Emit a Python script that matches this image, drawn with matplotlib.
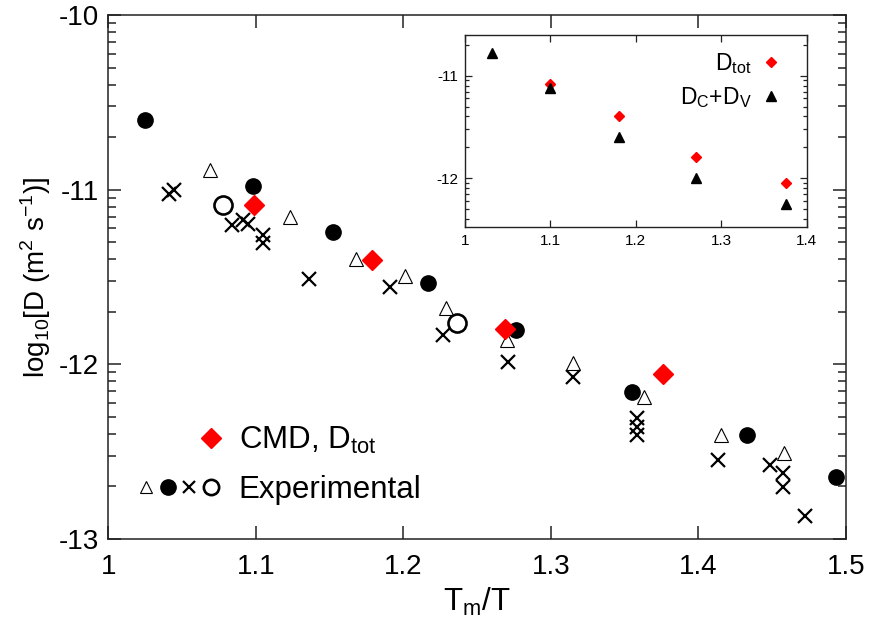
import numpy as np
import matplotlib
matplotlib.use("Agg")
import matplotlib.pyplot as plt
from matplotlib.lines import Line2D
from matplotlib.legend_handler import HandlerTuple
from matplotlib.ticker import FixedLocator, NullLocator

plt.rcParams['font.family'] = ['Liberation Sans', 'DejaVu Sans']
plt.rcParams['mathtext.fontset'] = 'custom'
plt.rcParams['mathtext.rm'] = 'Liberation Sans'
plt.rcParams['axes.unicode_minus'] = False

# ---- data: main panel ----
tri_x = [1.069, 1.123, 1.168, 1.201, 1.229, 1.270, 1.315, 1.363, 1.415, 1.458]
tri_y = [-10.887, -11.158, -11.398, -11.494, -11.679, -11.860, -11.994, -12.188, -12.404, -12.509]

fcirc_x = [1.025, 1.098, 1.152, 1.2165, 1.276, 1.355, 1.433, 1.493]
fcirc_y = [-10.601, -10.979, -11.240, -11.536, -11.803, -12.156, -12.404, -12.646]

cross_x = [1.041, 1.0445, 1.084, 1.0915, 1.095, 1.105, 1.105, 1.136, 1.191, 1.227,
           1.271, 1.315, 1.358, 1.358, 1.358, 1.413, 1.4485, 1.457, 1.457, 1.472]
cross_y = [-11.025, -11.002, -11.204, -11.173, -11.196, -11.259, -11.303, -11.513, -11.559, -11.832,
           -11.985, -12.074, -12.309, -12.357, -12.404, -12.547, -12.576, -12.620, -12.704, -12.868]

ocirc_x = [1.078, 1.236]
ocirc_y = [-11.089, -11.761]

cmd_x = [1.099, 1.1785, 1.269, 1.376]
cmd_y = [-11.089, -11.402, -11.799, -12.057]

# ---- data: inset ----
in_tri_x = [1.032, 1.100, 1.180, 1.270, 1.376]
in_tri_y = [-10.778, -11.120, -11.600, -12.000, -12.254]
in_dia_x = [1.100, 1.180, 1.270, 1.376]
in_dia_y = [-11.078, -11.398, -11.795, -12.043]

main_xticks = [1.0, 1.1, 1.2, 1.3, 1.4, 1.5]
main_xticklabels = ['1', '1.1', '1.2', '1.3', '1.4', '1.5']
main_yticks = [-13, -12, -11, -10]
inset_xticks = [1.0, 1.1, 1.2, 1.3, 1.4]
inset_xticklabels = ['1', '1.1', '1.2', '1.3', '1.4']
inset_yticks = [-12, -11]

RED = '#ff0000'


def log_minor(lo, hi):
    vals = []
    for n in range(int(np.floor(lo)) - 1, int(np.ceil(hi)) + 1):
        for k in range(2, 10):
            v = n + np.log10(k)
            if lo < v < hi:
                vals.append(v)
    return vals


fig = plt.figure(figsize=(8.75, 6.28), dpi=100)
ax = fig.add_axes([0.1238, 0.1417, 0.9669 - 0.1238, 0.9761 - 0.1417])

ax.plot(tri_x, tri_y, linestyle='none', marker='^', markersize=9.5,
        markerfacecolor='white', markeredgecolor='black', markeredgewidth=0.8)
ax.plot(fcirc_x, fcirc_y, linestyle='none', marker='o', markersize=11,
        markerfacecolor='black', markeredgecolor='black')
ax.plot(cross_x, cross_y, linestyle='none', marker='x', markersize=9.5,
        color='black', markeredgewidth=1.6)
ax.plot(ocirc_x, ocirc_y, linestyle='none', marker='o', markersize=13,
        markerfacecolor='none', markeredgecolor='black', markeredgewidth=1.9)
ax.plot(cmd_x, cmd_y, linestyle='none', marker='D', markersize=10,
        markerfacecolor=RED, markeredgecolor=RED, zorder=5)

ax.set_xlim(1.0, 1.5)
ax.set_ylim(-13, -10)
ax.set_xticks(main_xticks)
ax.set_xticklabels(main_xticklabels)
ax.set_yticks(main_yticks)
ax.yaxis.set_minor_locator(FixedLocator(log_minor(-13, -10)))
ax.xaxis.set_minor_locator(NullLocator())
ax.tick_params(which='both', direction='in', top=True, right=True, width=1.1, colors='#222222',
               labelcolor='black')
ax.tick_params(which='major', length=9.5, labelsize=20, pad=7)
ax.tick_params(axis='x', which='major', pad=11)
ax.tick_params(which='minor', length=5.5)
for s in ax.spines.values():
    s.set_linewidth(1.1)
    s.set_color('#222222')

ax.set_xlabel(r'T$_\mathregular{m}$/T', fontsize=22.5, labelpad=4)
ax.set_ylabel(r'log$_\mathregular{10}$[D (m$^\mathregular{2}$ s$^\mathregular{-1}$)]', fontsize=20, labelpad=4)

# legend (main)
blank = Line2D([], [], linestyle='none', marker='none')
h_cmd = Line2D([], [], linestyle='none', marker='D', markersize=10,
               markerfacecolor=RED, markeredgecolor=RED)
h_tri = Line2D([], [], linestyle='none', marker='^', markersize=9,
               markerfacecolor='white', markeredgecolor='black', markeredgewidth=0.8)
h_fc = Line2D([], [], linestyle='none', marker='o', markersize=11,
              markerfacecolor='black', markeredgecolor='black')
h_x = Line2D([], [], linestyle='none', marker='x', markersize=8,
             color='black', markeredgewidth=1.6)
h_oc = Line2D([], [], linestyle='none', marker='o', markersize=11,
              markerfacecolor='none', markeredgecolor='black', markeredgewidth=1.9)
leg = ax.legend([(blank, blank, blank, h_cmd), (h_tri, h_fc, h_x, h_oc)],
                [r'CMD, D$_\mathregular{tot}$', 'Experimental'],
                handler_map={tuple: HandlerTuple(ndivide=None, pad=0)},
                loc='lower left', bbox_to_anchor=(0.037, 0.065), borderaxespad=0,
                borderpad=0, frameon=False, fontsize=22.5, handlelength=2.75,
                handletextpad=0.55, labelspacing=0.62)

# inset
axin = fig.add_axes([465 / 875, 1 - 227.3 / 628, (806.7 - 465) / 875, (227.3 - 34.7) / 628])
axin.plot(in_dia_x, in_dia_y, linestyle='none', marker='D', markersize=5,
          markerfacecolor=RED, markeredgecolor=RED, label=r'D$_\mathregular{tot}$')
axin.plot(in_tri_x, in_tri_y, linestyle='none', marker='^', markersize=7.5,
          markerfacecolor='black', markeredgecolor='black',
          label=r'D$_\mathregular{C}$+D$_\mathregular{V}$')
axin.set_xlim(1.0, 1.4)
axin.set_ylim(-12.48, -10.6)
axin.set_xticks(inset_xticks)
axin.set_xticklabels(inset_xticklabels)
axin.set_yticks(inset_yticks)
axin.yaxis.set_minor_locator(FixedLocator(log_minor(-12.48, -10.6)))
axin.xaxis.set_minor_locator(NullLocator())
axin.tick_params(which='both', direction='in', top=True, right=True, width=0.9, colors='#222222',
                 labelcolor='black')
axin.tick_params(which='major', length=5, labelsize=11, pad=5)
axin.tick_params(which='minor', length=3)
for s in axin.spines.values():
    s.set_linewidth(1.0)
    s.set_color('#222222')
axin.legend(loc='upper right', bbox_to_anchor=(0.93, 0.915), borderaxespad=0, borderpad=0,
            frameon=False, fontsize=16.5, markerfirst=False, handlelength=1.0,
            handletextpad=0.35, labelspacing=0.4)

fig.savefig('out.png', dpi=100)
